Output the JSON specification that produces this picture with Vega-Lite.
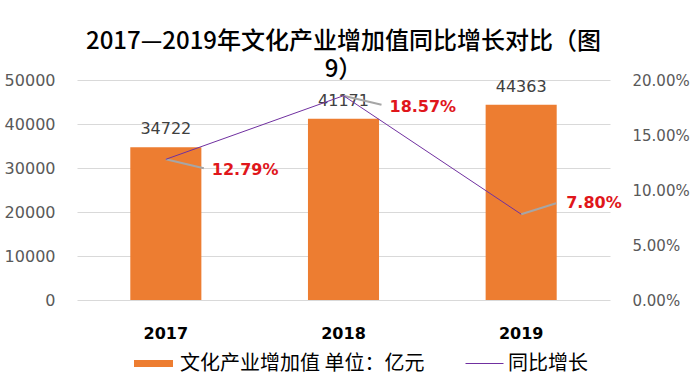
{
  "$schema": "https://vega.github.io/schema/vega-lite/v6.json",
  "autosize": "none",
  "width": 533,
  "height": 220,
  "padding": {"left": 77, "top": 80, "right": 88, "bottom": 84},
  "background": "white",
  "title": {
    "text": ["2017—2019年文化产业增加值同比增长对比（图", "9）"],
    "font": "Noto Sans CJK SC",
    "fontSize": 24,
    "fontWeight": 500,
    "color": "#000000",
    "lineHeight": 28,
    "anchor": "middle",
    "offset": -10
  },
  "data": {
    "values": [
      {"year": "2017", "value": 34722, "pct": 0.1279},
      {"year": "2018", "value": 41171, "pct": 0.1857},
      {"year": "2019", "value": 44363, "pct": 0.078}
    ]
  },
  "config": {
    "view": {"stroke": null},
    "axis": {"domain": false, "ticks": false}
  },
  "encoding": {
    "x": {
      "field": "year",
      "type": "nominal",
      "scale": {"paddingInner": 0.6, "paddingOuter": 0.3},
      "axis": {
        "orient": "bottom",
        "labelAngle": 0,
        "labelFont": "DejaVu Sans",
        "labelFontSize": 16,
        "labelFontWeight": "bold",
        "labelColor": "#000000",
        "labelPadding": 25,
        "title": null
      }
    }
  },
  "layer": [
    {
      "encoding": {
        "y": {
          "field": "value",
          "type": "quantitative",
          "scale": {"domain": [0, 50000], "nice": false},
          "axis": {
            "orient": "left",
            "values": [0, 10000, 20000, 30000, 40000, 50000],
            "format": "d",
            "grid": true,
            "gridColor": "#D9D9D9",
            "gridWidth": 1,
            "labelFont": "DejaVu Sans",
            "labelFontSize": 16,
            "labelColor": "#595959",
            "labelPadding": 22,
            "title": null
          }
        }
      },
      "layer": [
        {
          "mark": {"type": "bar"},
          "encoding": {
            "fill": {
              "datum": "文化产业增加值 单位：亿元",
              "type": "nominal",
              "scale": {"range": ["#ED7D31"]},
              "legend": {
                "orient": "none",
                "legendX": 57,
                "legendY": 264,
                "title": null,
                "padding": 0,
                "symbolType": "M-1,-0.18H1V0.18H-1Z",
                "symbolSize": 1521,
                "symbolStrokeWidth": 0,
                "labelFont": "Noto Sans CJK SC",
                "labelFontSize": 20,
                "labelColor": "#000000",
                "labelOffset": 7,
                "labelLimit": 400
              }
            }
          }
        },
        {
          "mark": {
            "type": "text",
            "baseline": "bottom",
            "dy": -10,
            "font": "DejaVu Sans",
            "fontSize": 16,
            "color": "#404040"
          },
          "encoding": {
            "text": {"field": "value", "type": "quantitative", "format": "d"}
          }
        }
      ]
    },
    {
      "encoding": {
        "y": {
          "field": "pct",
          "type": "quantitative",
          "scale": {"domain": [0, 0.2], "nice": false},
          "axis": {
            "orient": "right",
            "values": [0, 0.05, 0.1, 0.15, 0.2],
            "format": ".2%",
            "grid": false,
            "labelFont": "DejaVu Sans",
            "labelFontSize": 15,
            "labelColor": "#595959",
            "labelPadding": 22,
            "title": null
          }
        }
      },
      "layer": [
        {
          "transform": [{"filter": "datum.year != '2019'"}],
          "mark": {
            "type": "rule",
            "color": "#A6A6A6",
            "strokeWidth": 2,
            "x2Offset": 38,
            "y2Offset": 9
          },
          "encoding": {
            "x2": {"field": "year"},
            "y2": {"field": "pct"}
          }
        },
        {
          "transform": [{"filter": "datum.year == '2019'"}],
          "mark": {
            "type": "rule",
            "color": "#A6A6A6",
            "strokeWidth": 2,
            "x2Offset": 35,
            "y2Offset": -11
          },
          "encoding": {
            "x2": {"field": "year"},
            "y2": {"field": "pct"}
          }
        },
        {
          "mark": {"type": "line", "strokeWidth": 1},
          "encoding": {
            "stroke": {
              "datum": "同比增长",
              "type": "nominal",
              "scale": {"range": ["#7030A0"]},
              "legend": {
                "orient": "none",
                "legendX": 388,
                "legendY": 264,
                "title": null,
                "padding": 0,
                "symbolType": "stroke",
                "symbolSize": 1444,
                "symbolStrokeWidth": 1,
                "labelFont": "Noto Sans CJK SC",
                "labelFontSize": 20,
                "labelColor": "#000000",
                "labelOffset": 4,
                "labelLimit": 400
              }
            }
          }
        },
        {
          "transform": [{"filter": "datum.year != '2019'"}],
          "mark": {
            "type": "text",
            "align": "left",
            "baseline": "middle",
            "dx": 46,
            "dy": 11,
            "font": "DejaVu Sans",
            "fontSize": 16,
            "fontWeight": "bold",
            "color": "#E0161B"
          },
          "encoding": {
            "text": {"field": "pct", "type": "quantitative", "format": ".2%"}
          }
        },
        {
          "transform": [{"filter": "datum.year == '2019'"}],
          "mark": {
            "type": "text",
            "align": "left",
            "baseline": "middle",
            "dx": 45,
            "dy": -11,
            "font": "DejaVu Sans",
            "fontSize": 16,
            "fontWeight": "bold",
            "color": "#E0161B"
          },
          "encoding": {
            "text": {"field": "pct", "type": "quantitative", "format": ".2%"}
          }
        }
      ]
    }
  ],
  "resolve": {"scale": {"y": "independent"}}
}
